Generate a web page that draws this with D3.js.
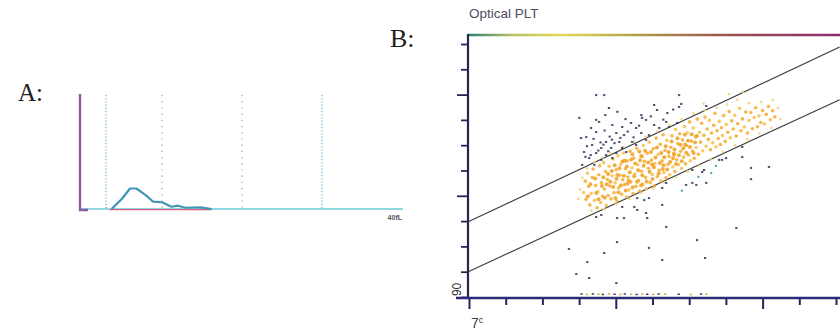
<!DOCTYPE html>
<html>
<head>
<meta charset="utf-8">
<script src="https://cdn.jsdelivr.net/npm/d3@7"></script>
<style>
  body { margin: 0; background: #fff; }
  svg { display: block; }
</style>
</head>
<body>
<svg id="chart" width="840" height="331"></svg>
<script>
// ---- panel A: PLT volume histogram ----
const histFl = [3.7, 5, 6, 6.8, 8, 8.9, 10, 10.6, 11.2, 12, 12.9, 14, 14.8, 16.2];
const histCount = [0, 9, 18, 18, 12, 6.4, 5.9, 4, 2, 2.9, 1.1, 1.3, 1.5, 0];
const histMarkers = [3, 10, 20, 30];
const histMarkerKind = ["disc", "grid", "grid", "disc"];
const histUnitLabel = "40fL";

// ---- panel B: optical PLT scatter ----
const plotTitle = "Optical PLT";
const axisTicks = [0, 10, 20, 30, 40, 50, 60, 70, 80, 90, 100];
const majorTicks = [40, 80];
const yTickLabel = "90";
const xTickLabel = "7";
const xTickLabelSup = "c";
const gateLines = [
  [[-0.5, 29.5], [101, 98.8]],
  [[-0.5, 9.8], [101, 78]]
];

const orangeCore = [
  [31.2,41.3],[31.7,45.8],[31.9,38.6],[32.3,48.9],[32.6,43.7],[32.9,36.4],[33.3,40.9],[33.6,47.2],[33.8,50.6],[34.2,38.2],
  [34.5,44.1],[34.9,35.3],[35.1,41.6],[35.4,48.3],[35.6,51.9],[35.9,37.4],[36.1,45.2],[36.4,39.8],[36.7,53.1],[36.9,42.7],
  [37.2,49.6],[37.4,36.2],[37.7,46.4],[37.9,40.1],[38.2,51.7],[38.4,43.9],[38.7,38.8],[39,47.9],[39.2,54.6],[39.5,41.2],
  [39.8,45.1],[40.1,50.3],[40.3,37.9],[40.6,55.8],[40.8,43.2],[41.1,48.1],[41.3,52.4],[41.6,40.6],[41.9,46.3],[42.1,56.9],
  [42.4,44.4],[42.6,50.7],[42.9,39.6],[43.1,53.8],[43.3,47.4],[43.6,42.3],[43.9,57.6],[44.1,45.5],[44.4,51.1],[44.7,40.9],
  [44.9,54.9],[45.2,48.6],[45.5,43.8],[45.7,58.8],[46,52.2],[46.2,46.1],[46.5,41.9],[46.8,55.7],[47,49.7],[47.3,44.6],
  [47.5,59.9],[47.8,53.6],[48.1,47.3],[48.3,42.8],[48.6,56.8],[48.9,50.9],[49.1,61.2],[49.4,45.2],[49.7,54.1],[49.9,48.4],
  [50.2,58.6],[50.5,43.9],[50.7,52.7],[51,62.8],[51.3,47.6],[51.5,56.3],[51.8,50.1],[52.1,60.4],[52.3,45.9],[52.6,53.8],
  [52.9,64.1],[53.1,49.2],[53.4,57.9],[53.7,47.1],[53.9,61.9],[54.2,52.5],[54.5,55.6],[54.7,48.3],[55,59.2],[55.3,63.7],
  [55.5,51.4],[55.8,56.8],[56.1,49.6],[56.3,66.2],[56.6,54.2],[56.9,60.7],[57.1,52.3],[57.4,64.5],[57.7,57.6],[57.9,50.8],
  [58.2,62.1],[58.5,55.3],[58.7,67.4],[59,52.6],[59.3,59.8],[59.5,64.9],[59.8,56.1],[60.1,69.2],[60.3,53.9],[60.6,61.6],
  [60.9,57.7],[61.1,66.8],[61.4,54.8],[61.7,63.3],[61.9,59.1],[62.2,70.3],[62.5,56.4],[62.8,65.1],[63.1,61.2],[63.4,68.7],
  [63.7,57.8],[64,63.9],[64.3,71.1],[64.6,59.6],[64.9,66.4],[65.2,62.3],[65.5,69.8],[65.8,58.2],[66.1,64.8],[66.4,61],
  [66.7,67.9],[67,72.6],[67.3,59.4],[67.6,65.7],[67.9,62.6],[68.2,69.4],[68.5,60.3],[68.8,66.9],[69.1,63.8],[69.4,71.7],
  [69.8,61.5],[70.1,68.2],[70.5,65.1],[70.9,73.3],[71.2,62.9],[71.6,69.6],[72,66.4],[72.4,71.8],[72.8,63.6],[73.2,68.5],
  [73.7,74.6],[74.1,65.7],[74.5,70.4],[75,67.2],[75.4,73.1],[75.9,64.8],[76.3,69.8],[76.8,72.9],[77.2,66.5],[77.7,70.9],
  [78.1,74.8],[78.6,67.3],[79,71.6],[79.5,69],[80,73.7],[80.5,68.4],[81,72.2],[81.6,75.3],[82.1,70.1],[82.7,73.6],
  [83.3,71.2]
];
const orangeDense = [
  [38.5,45.6],[38.9,49.8],[39.3,43.5],[39.7,52.1],[40.2,46.7],[40.7,41.4],[41,50.9],[41.4,44.2],[41.8,53.6],[42.2,47.9],
  [42.7,42.1],[43,51.6],[43.5,45.9],[43.8,49.3],[44.2,54.3],[44.6,43.3],[45,47.7],[45.3,52.8],[45.8,45.6],[46.1,50.1],
  [46.6,54.1],[46.9,44.2],[47.2,48.1],[47.6,51.9],[48,57.8],[48.4,45.7],[48.8,53.2],[49.2,49.5],[49.6,57.3],[50,46.6],
  [50.4,51.3],[50.8,55.1],[51.2,59.1],[51.7,48.8],[52,53],[52.4,56.9],[52.8,50.6],[53.2,55.2],[53.6,59.6],[54,50.4],
  [54.4,57.3],[54.8,53.4],[55.2,61.5],[55.6,54.8],[56,58.3],[56.4,52.6],[56.8,62.7],[57.2,56],[57.6,60.2],[58,53.7],
  [58.4,58.8],[58.8,64.1],[59.2,57],[59.7,61.8],[60.2,59.3],[60.7,64.3],[61.2,56.9],[61.6,61.1],[62.1,63.6],[36.2,43.9],
  [36.6,47.3],[37,39.2],[37.5,44.6],[37.9,48.6],[34.4,46.8],[34.7,41.1],[35.3,38.6],[33.1,44.6],[32.4,39.8],[39.9,39.1],
  [42.4,53.9],[44.5,56.4],[46.4,57.5],[40.4,48.2],[43.2,44.8],[47.1,55.6],[49.9,52.4],[53,52.1],[55.9,56.3],[58.9,60.3]
];
const orangeHalo = [
  [30.3,42.5],[30.9,47.2],[32.2,50.8],[34.2,53.4],[36.3,55.1],[38.6,56.8],[29.8,38.7],[33.4,34.1],[36.8,34.7],[40.1,36.7],
  [43.7,38.8],[46.9,41.2],[50.1,42.9],[53.3,45.3],[56.4,47.4],[59.6,49.6],[62.7,51.8],[65.9,54.3],[69.2,57.4],[72.5,59.9],
  [75.8,62.4],[79.1,64.6],[82.4,66.8],[84.8,70.3],[84.2,74.6],[82.8,77.9],[79.6,77.1],[76.3,76.6],[73.1,77.9],[70.3,76.1],
  [67.5,74.9],[64.2,73.8],[61.1,72.6],[57.9,70.4],[54.7,67.8],[51.4,65.6],[48.2,63.3],[45,61.4],[41.8,59.2],[63.9,76.4],
  [70.8,80.2],[74.6,81.1]
];
const darkPts = [
  [38.1,74.7],[50.4,75.9],[51.2,73.9],[54,72.7],[46.9,71.9],[48.2,70],[34.6,70],[35.4,69.2],[44.1,68.8],[39,68],
  [41.7,67.2],[45.5,66.8],[33.2,66.8],[50.4,68],[51.8,66.8],[54.5,67.2],[34.6,65.2],[40.1,64.8],[42.2,64],[46.9,64.8],
  [49,64],[31.9,63.2],[37.3,61.3],[40.9,61.3],[44.4,61.3],[48.2,62.1],[33.5,60.1],[36,58.9],[38.7,58.9],[41.7,58.9],
  [45.5,60.1],[31.3,57.3],[34.6,56.9],[37.3,56.1],[40.1,56.9],[42.8,57.3],[32.7,54.9],[36,54.2],[39,54.9],[30.8,52.2],
  [34.1,52.2],[30.5,62.8],[36.8,79.8],[34.6,79.8],[57.2,79.8],[57.2,75.1],[47.1,70.8],[30,70.8],[57.8,76.3],[64.6,75.5],
  [53.7,69.2],[56.7,68.8],[32.1,59.6],[33.9,62.5],[35.8,61.1],[36.9,65.8],[38.3,63.4],[39.6,60.8],[41.2,62.9],[43.2,65.4],
  [35.2,57.9],[37.9,57.6],[31.7,55.4],[44.8,63.1],[46.3,67.7],[42.6,70.3],[37.1,71.9],[40.4,73.2],[49.5,71.4],[52.9,70.1],
  [55.6,74.1],[33.1,56.1],[36.6,60.2],[38.9,62.2],
  [59.1,44.3],[60.8,45.1],[63.5,49.4],[64.6,45.1],[68.9,54.2],[74.4,59.3],[76.8,51],[81.7,51.4],[76.8,46.6],[74.4,55.3],
  [70,54.9],[68.1,54.2],[60.8,50.2],[64,50.2],[61.9,44.3],[53.7,45.1],[52.6,43.1],[49,39.1],[47.7,38.3],[45,35.6],
  [45.8,39.1],[41.7,35.6],[48.2,33.2],[40.3,31.2],[42.2,31.2],[34.6,31.6],[36,32.4],[53.7,27.7],[48.5,31.2],[72.8,27.3],
  [62.1,22.5],[49,19.4],[40.3,21.7],[27.2,19],[36.8,17.4],[32.2,13.8],[52.6,14.6],[64.3,15.4],[29.2,9.1],[32.7,7.5],
  [40.1,5.5],[52.6,36.4],[45.8,34.4]
];
const tealPts = [[62.5,47.5],[58,42],[66,49],[67.3,51.8]];
const axisPts = [
  [30.6,0.9],[32.1,0.7],[33.7,0.9],[35.2,0.8],[36.4,0.7],[38.1,0.9],[39.6,0.8],[41.2,0.7],[42.4,0.9],[44.1,0.8],
  [45.6,0.7],[47.2,0.9],[48.5,0.8],[50.1,0.7],[51.6,0.9],[53.4,0.8],[57.1,0.8],[60.4,0.7],[63.2,0.9],[64.6,0.8]
];

const svg = d3.select("#chart");

// ================= panel A =================
const ax = d3.scaleLinear().domain([0, 40]).range([82, 402]);
const ay = d3.scaleLinear().domain([0, 100]).range([209, 95]);

svg.append("text")
  .attr("x", 18).attr("y", 101)
  .style("font-family", "Liberation Serif, DejaVu Serif, serif")
  .style("font-size", "25px")
  .style("fill", "#222")
  .text("A:");

svg.selectAll(".hmark").data(histMarkers).enter().append("line")
  .attr("class", "hmark")
  .attr("x1", d => ax(d)).attr("x2", d => ax(d))
  .attr("y1", ay(100)).attr("y2", ay(0))
  .attr("stroke", (d, i) => histMarkerKind[i] === "disc" ? "#5fb3cf" : "#9a9a9a")
  .attr("stroke-width", 1.2)
  .attr("stroke-dasharray", (d, i) => histMarkerKind[i] === "disc" ? "1.2,2" : "1.2,5");

// baseline
svg.append("line")
  .attr("x1", 80).attr("x2", ax(40) + 1)
  .attr("y1", ay(0)).attr("y2", ay(0))
  .attr("stroke", "#6cc8d8").attr("stroke-width", 1.6);
svg.append("line")
  .attr("x1", ax(histFl[0]) - 2).attr("x2", ax(histFl[histFl.length - 1]))
  .attr("y1", ay(0) + 0.6).attr("y2", ay(0) + 0.6)
  .attr("stroke", "#d86080").attr("stroke-width", 1.2);

// purple axis
svg.append("path")
  .attr("d", `M80,${ay(100) - 1}V${ay(0) + 1}H88`)
  .attr("fill", "none")
  .attr("stroke", "#8c5aa2").attr("stroke-width", 2.4);

const histLine = d3.line()
  .x((d, i) => ax(histFl[i]))
  .y(d => ay(d));
svg.append("path")
  .datum(histCount)
  .attr("d", histLine)
  .attr("fill", "none")
  .attr("stroke", "#3f95b8")
  .attr("stroke-width", 2.2)
  .attr("stroke-linejoin", "round");

svg.append("text")
  .attr("x", ax(40)).attr("y", 220)
  .attr("text-anchor", "end")
  .style("font-family", "Liberation Sans, Arial, sans-serif")
  .style("font-size", "7px")
  .style("font-weight", "bold")
  .style("fill", "#555")
  .text(histUnitLabel);

// ================= panel B =================
const bx = d3.scaleLinear().domain([0, 100]).range([469, 836]);
const by = d3.scaleLinear().domain([0, 100]).range([297, 44]);
const pLeft = 468, pTop = 35, pRight = 840, pBottom = 298;

svg.append("text")
  .attr("x", 390).attr("y", 47)
  .style("font-family", "Liberation Serif, DejaVu Serif, serif")
  .style("font-size", "26px")
  .style("fill", "#222")
  .text("B:");

svg.append("text")
  .attr("x", 469).attr("y", 18)
  .style("font-family", "Liberation Sans, Arial, sans-serif")
  .style("font-size", "13.5px")
  .style("fill", "#4d4d5e")
  .text(plotTitle);

const defs = svg.append("defs");
const grad = defs.append("linearGradient").attr("id", "topGrad")
  .attr("gradientUnits", "userSpaceOnUse")
  .attr("x1", pLeft).attr("x2", pRight).attr("y1", 0).attr("y2", 0);
[["0%", "#2c8080"], ["12%", "#b8c060"], ["25%", "#e6d85a"], ["45%", "#b0a048"], ["70%", "#9a5050"], ["100%", "#8a2e6e"]]
  .forEach(s => grad.append("stop").attr("offset", s[0]).attr("stop-color", s[1]));
svg.append("line")
  .attr("x1", pLeft).attr("x2", pRight).attr("y1", pTop).attr("y2", pTop)
  .attr("stroke", "url(#topGrad)").attr("stroke-width", 2.5);

// gates
svg.selectAll(".gate").data(gateLines).enter().append("line")
  .attr("class", "gate")
  .attr("x1", d => bx(d[0][0])).attr("y1", d => by(d[0][1]))
  .attr("x2", d => bx(d[1][0])).attr("y2", d => by(d[1][1]))
  .attr("stroke", "#3a3a3a").attr("stroke-width", 1.1);

// clouds
const plotArea = svg.append("g");
plotArea.selectAll(".halo").data(orangeHalo).enter().append("circle")
  .attr("cx", d => bx(d[0])).attr("cy", d => by(d[1])).attr("r", 1.4)
  .attr("fill", "#f6cf80").attr("opacity", 0.85);
plotArea.selectAll(".core").data(orangeCore).enter().append("circle")
  .attr("cx", d => bx(d[0])).attr("cy", d => by(d[1])).attr("r", 1.8)
  .attr("fill", (d, i) => i % 3 === 0 ? "#f7c04e" : "#f4aa2e").attr("opacity", 0.85);
plotArea.selectAll(".dense").data(orangeDense).enter().append("circle")
  .attr("cx", d => bx(d[0])).attr("cy", d => by(d[1])).attr("r", 2)
  .attr("fill", "#f19d1c").attr("opacity", 0.85);
plotArea.selectAll(".teal").data(tealPts).enter().append("rect")
  .attr("x", d => bx(d[0]) - 1).attr("y", d => by(d[1]) - 1)
  .attr("width", 2).attr("height", 2).attr("fill", "#4aa0a8");
plotArea.selectAll(".dark").data(darkPts).enter().append("rect")
  .attr("x", d => bx(d[0]) - 1).attr("y", d => by(d[1]) - 1)
  .attr("width", 2.3).attr("height", 2).attr("fill", "#36325e").attr("opacity", 0.85);
plotArea.selectAll(".axp").data(axisPts).enter().append("rect")
  .attr("x", d => bx(d[0]) - 1).attr("y", d => by(d[1]) - 1.5)
  .attr("width", 2.4).attr("height", 1.5)
  .attr("fill", (d, i) => i % 2 ? "#d8b040" : "#4a4060");

// axes
const xAxis = d3.axisBottom(bx).tickValues(axisTicks).tickFormat("").tickSizeOuter(0)
  .tickSize(7);
const yAxis = d3.axisLeft(by).tickValues(axisTicks).tickFormat("").tickSizeOuter(0)
  .tickSize(7);

const gx = svg.append("g").attr("transform", `translate(0,${pBottom})`).call(xAxis);
gx.select(".domain").remove();
gx.selectAll(".tick line")
  .attr("stroke", "#26265e").attr("stroke-width", 2)
  .attr("y2", d => majorTicks.includes(d) || d === 0 ? 11 : 7);

const gy = svg.append("g").attr("transform", `translate(${pLeft},0)`).call(yAxis);
gy.select(".domain").remove();
gy.selectAll(".tick line")
  .attr("stroke", "#26265e").attr("stroke-width", 1.8)
  .attr("x2", d => majorTicks.includes(d) ? -11 : -7);

svg.append("line")
  .attr("x1", pLeft).attr("x2", pLeft).attr("y1", pTop - 1).attr("y2", pBottom + 1)
  .attr("stroke", "#23284e").attr("stroke-width", 2.2);
svg.append("line")
  .attr("x1", 456).attr("x2", pRight).attr("y1", pBottom).attr("y2", pBottom)
  .attr("stroke", "#2b2b7a").attr("stroke-width", 2.4);

svg.append("text")
  .attr("transform", `translate(461,${by(3)}) rotate(-90)`)
  .attr("text-anchor", "middle")
  .style("font-family", "Liberation Sans, Arial, sans-serif")
  .style("font-size", "12px")
  .style("fill", "#333")
  .text(yTickLabel);

const xl = svg.append("text")
  .attr("x", bx(0) + 2).attr("y", 328)
  .style("font-family", "Liberation Sans, Arial, sans-serif")
  .style("font-size", "14px")
  .style("fill", "#3a3a4a")
  .text(xTickLabel);
xl.append("tspan").attr("dy", -5).style("font-size", "9px").text(xTickLabelSup);
</script>
</body>
</html>
